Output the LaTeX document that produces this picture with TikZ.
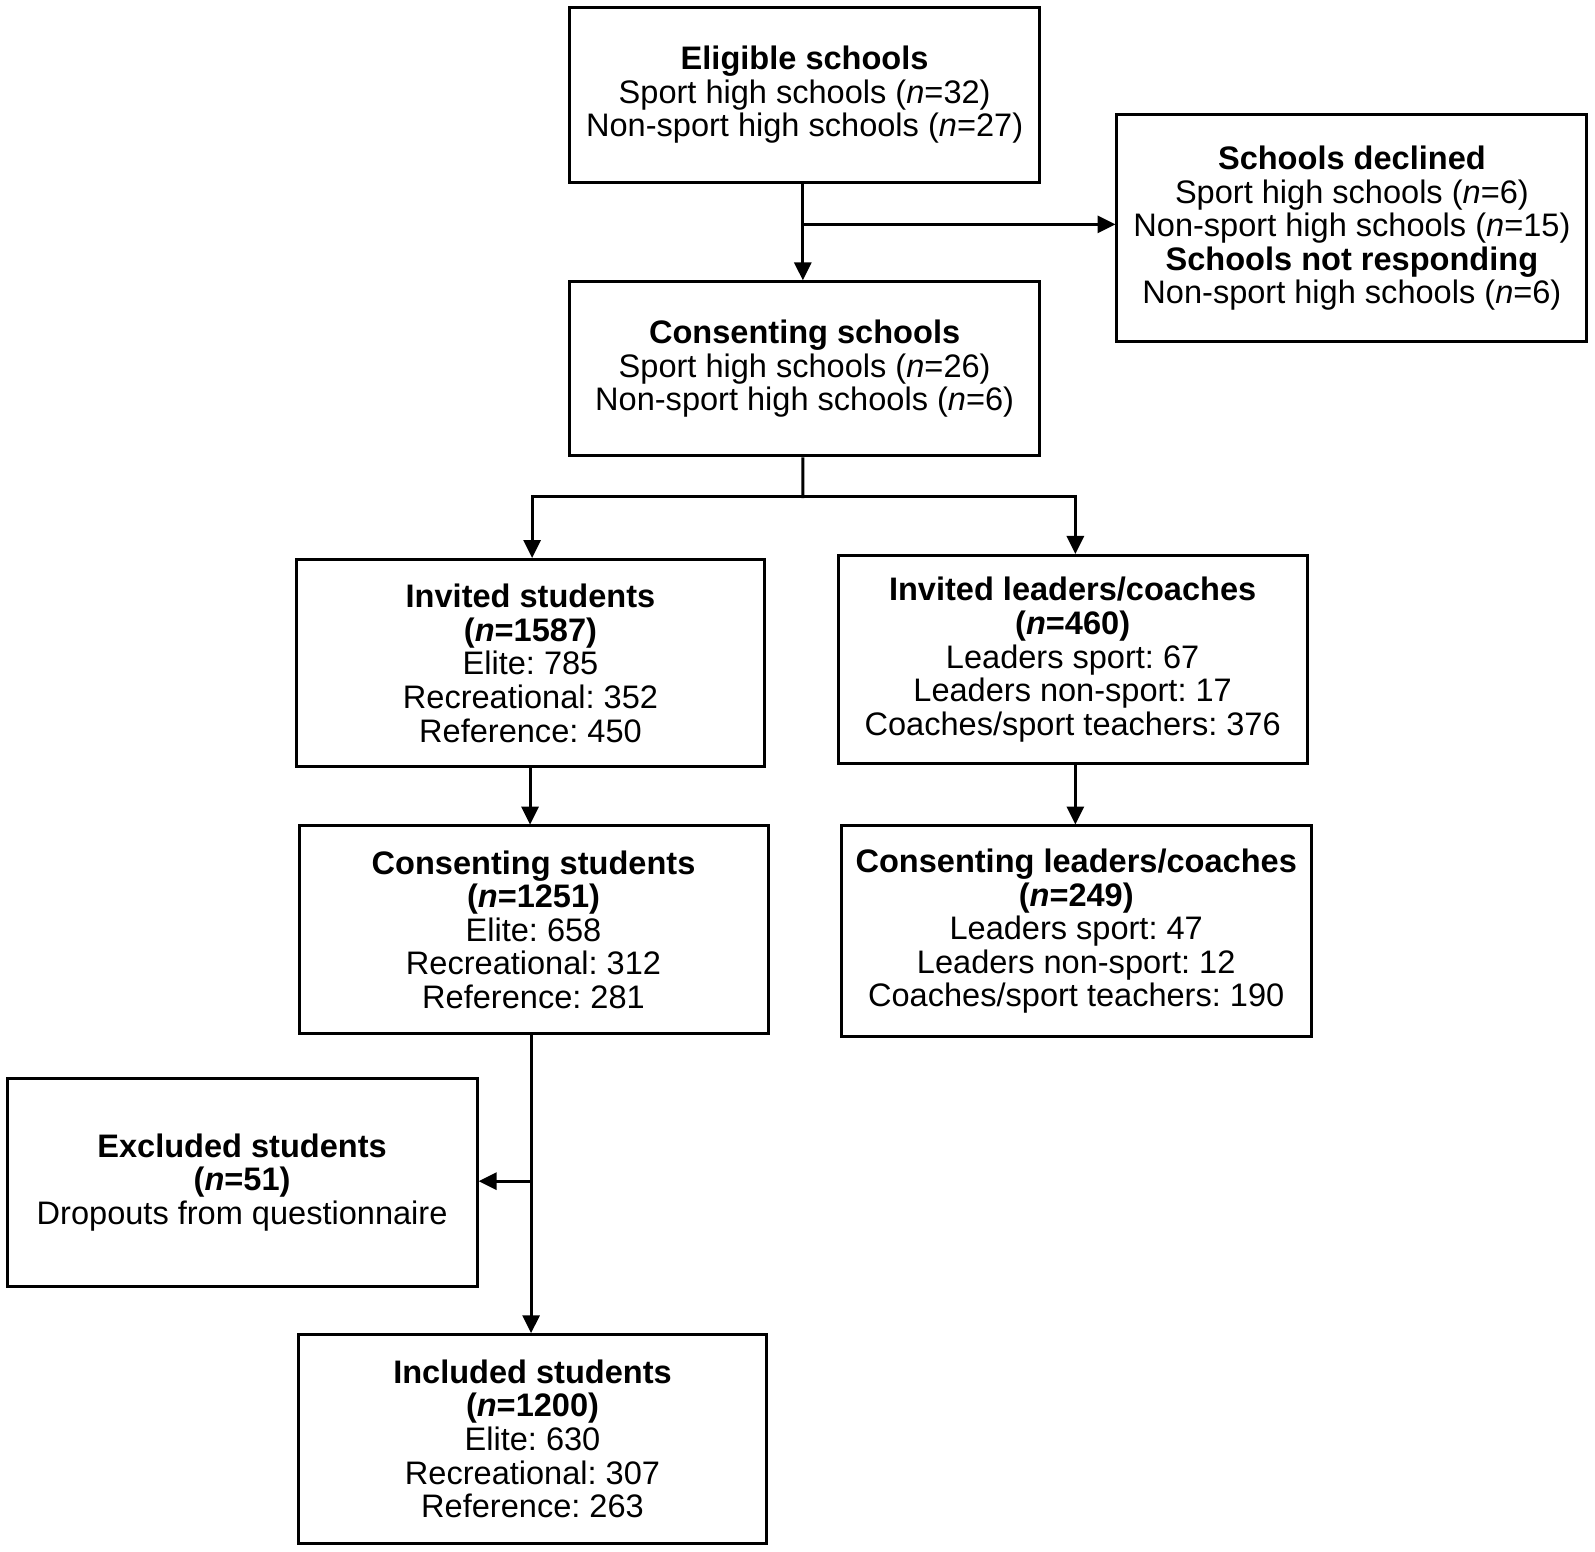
\documentclass[tikz,border=0pt]{standalone}
\usepackage{fontspec}
\setmainfont{Liberation Sans}
\frenchspacing
\usetikzlibrary{arrows.meta,calc}
\begin{document}
\begin{tikzpicture}[x=1pt,y=-1pt,scale=1.0172,transform shape,
  box/.style={draw,line width=3pt,minimum width=462pt,inner sep=0pt,align=center,
    font=\fontsize{32}{33}\selectfont},
  conn/.style={line width=3pt},
  arr/.style={line width=3pt,-{Triangle[length=18pt,width=17pt]}}]
\useasboundingbox (0,0) rectangle (1568,1524.8);
\node[box,minimum height=172pt] (elig) at (791,93)
  {\textbf{Eligible schools}\\Sport high schools (\textit{n}=32)\\Non-sport high schools (\textit{n}=27)};
\node[box,minimum height=223pt] (decl) at (1329,224.5)
  {\textbf{Schools declined}\\Sport high schools (\textit{n}=6)\\Non-sport high schools (\textit{n}=15)\\\textbf{Schools not responding}\\Non-sport high schools (\textit{n}=6)};
\node[box,minimum height=171pt] (cons) at (791,362.5)
  {\textbf{Consenting schools}\\Sport high schools (\textit{n}=26)\\Non-sport high schools (\textit{n}=6)};
\node[box,minimum height=204pt,minimum width=461pt] (invs) at (521.5,652)
  {\textbf{Invited students}\\\textbf{(\textit{n}=1587)}\\Elite: 785\\Recreational: 352\\Reference: 450};
\node[box,minimum height=205pt,minimum width=461pt] (invl) at (1054.5,648.5)
  {\textbf{Invited leaders/coaches}\\\textbf{(\textit{n}=460)}\\Leaders sport: 67\\Leaders non-sport: 17\\Coaches/sport teachers: 376};
\node[box,minimum height=204pt,minimum width=461pt] (cstu) at (524.5,914)
  {\textbf{Consenting students}\\\textbf{(\textit{n}=1251)}\\Elite: 658\\Recreational: 312\\Reference: 281};
\node[box,minimum height=207pt] (clead) at (1058,915.5)
  {\textbf{Consenting leaders/coaches}\\\textbf{(\textit{n}=249)}\\Leaders sport: 47\\Leaders non-sport: 12\\Coaches/sport teachers: 190};
\node[box,minimum height=205pt] (excl) at (238,1162.5)
  {\textbf{Excluded students}\\\textbf{(\textit{n}=51)}\\Dropouts from questionnaire};
\node[box,minimum height=205pt,minimum width=461pt] (incl) at (523.5,1414.5)
  {\textbf{Included students}\\\textbf{(\textit{n}=1200)}\\Elite: 630\\Recreational: 307\\Reference: 263};
% arrows
\coordinate (e0) at ($(elig.south)+(-2,0)$);
\coordinate (e1) at ($(e0)+(0,40)$);
\draw[arr] (e0) -- (e0 |- cons.north);
\draw[arr] (e1) -- (e1 -| decl.west);
\coordinate (c0) at ($(cons.south)+(-2,0)$);
\coordinate (c1) at ($(c0)+(0,40)$);
\coordinate (cl) at (523,488);
\coordinate (cr) at (1057,488);
\draw[conn] (c0) -- (c1);
\draw[conn] (cl) -- (cr);
\draw[arr] ([yshift=1.5pt]cl) -- (cl |- invs.north);
\draw[arr] ([yshift=1.5pt]cr) -- (cr |- invl.north);
\coordinate (s0) at (521,754);
\draw[arr] (s0) -- (s0 |- cstu.north);
\coordinate (l0) at (1057,751);
\draw[arr] (l0) -- (l0 |- clead.north);
\coordinate (t0) at (522,1016);
\coordinate (t1) at (522,1161);
\draw[arr] (t0) -- (t0 |- incl.north);
\draw[arr] (t1) -- (t1 -| excl.east);
\end{tikzpicture}
\end{document}
